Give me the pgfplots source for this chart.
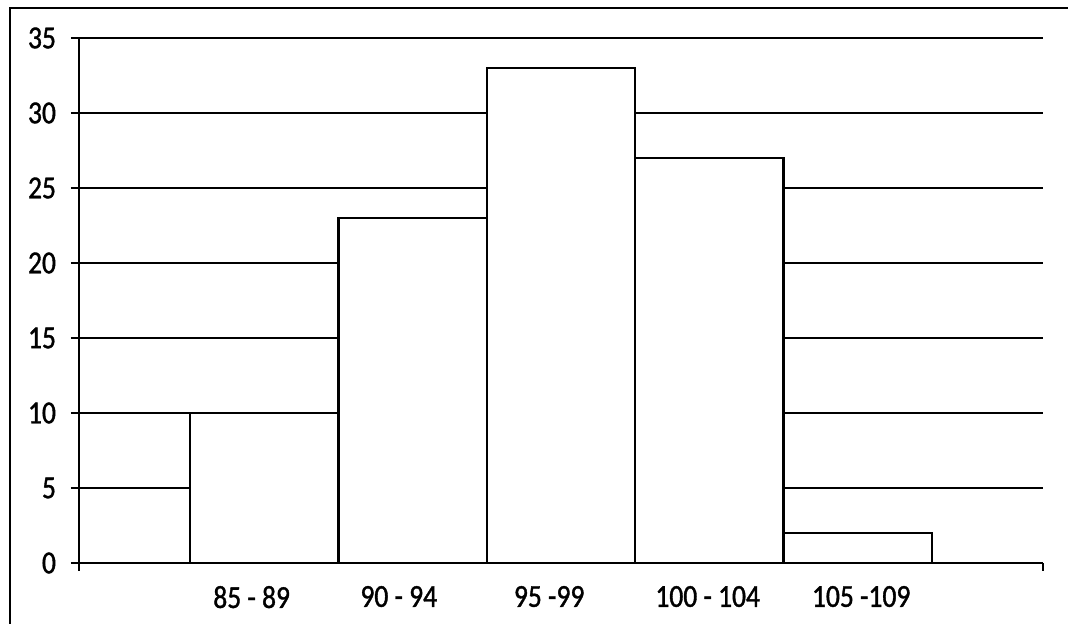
\documentclass[border=0pt]{standalone}
\usepackage{pgfplots}
\pgfplotsset{compat=1.18}
\usepackage{fontspec}
\setmainfont{Carlito}[FakeStretch=0.86, FakeBold=1.2]
\begin{document}
\begin{tikzpicture}[x=1pt,y=1pt]
\useasboundingbox (0,0) rectangle (534,312);
\draw[line width=1pt] (5,-10) -- (5,308) -- (545,308);
\begin{axis}[
  at={(39.5pt,30.5pt)}, anchor=south west,
  scale only axis, width=482pt, height=262.5pt,
  xmin=-0.25, xmax=6.25, ymin=0, ymax=35,
  axis x line*=bottom, axis y line*=left,
  axis line style={line width=0.8pt},
  ytick={0,5,...,35},
  xtick={-0.25,6.25}, xticklabels={},
  extra x ticks={0.914,1.906,2.920,3.989,5.024},
  extra x tick labels={85 - 89,90 - 94,95 -99,100 - 104,105 -109},
  extra x tick style={major tick length=0pt, grid=none},
  ymajorgrids, major grid style={black, line width=0.7pt},
  tick align=outside, major tick length=4pt,
  tick style={black, line width=0.8pt},
  /pgf/number format/assume math mode=true,
  tick label style={font=\fontsize{16}{19}\selectfont},
  yticklabel style={xshift=-4pt},
  xticklabel style={yshift=-8pt},
  clip=false,
]
\addplot[ybar, bar width=1, fill=white, draw=black, line width=1.1pt]
  coordinates {(1,10) (2,23) (3,33) (4,27) (5,2)};
\end{axis}
\end{tikzpicture}
\end{document}
